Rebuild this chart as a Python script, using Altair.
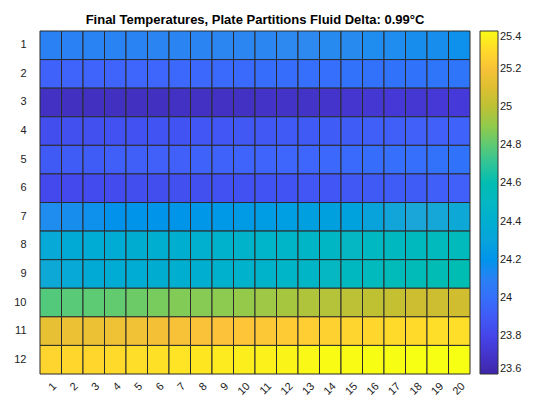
import altair as alt
import pandas as pd

rows = list(range(1, 13))
cols = list(range(1, 21))
r1 = [24.10,24.10,24.11,24.11,24.11,24.12,24.12,24.12,24.13,24.13,24.13,24.14,24.14,24.15,24.15,24.16,24.16,24.17,24.17,24.18]
r2 = [23.94,23.95,23.95,23.95,23.96,23.96,23.97,23.97,23.98,23.98,23.99,23.99,24.00,24.00,24.01,24.01,24.02,24.02,24.03,24.03]
r3 = [23.68,23.67,23.67,23.67,23.67,23.67,23.68,23.68,23.68,23.68,23.69,23.69,23.69,23.70,23.71,23.72,23.73,23.72,23.73,23.74]
r4 = [23.84,23.85,23.85,23.86,23.86,23.87,23.87,23.88,23.88,23.89,23.89,23.90,23.90,23.91,23.91,23.92,23.92,23.93,23.93,23.94]
r5 = [23.90,23.91,23.91,23.92,23.92,23.93,23.93,23.94,23.94,23.95,23.95,23.96,23.96,23.97,23.98,23.99,24.00,24.00,24.01,24.02]
r6 = [23.82,23.82,23.83,23.83,23.84,23.84,23.85,23.85,23.86,23.86,23.87,23.87,23.88,23.88,23.89,23.90,23.91,23.91,23.92,23.93]
r7 = [24.16,24.17,24.18,24.19,24.20,24.20,24.21,24.22,24.23,24.24,24.25,24.26,24.27,24.28,24.29,24.30,24.31,24.32,24.33,24.34]
r8 = [24.35,24.36,24.37,24.38,24.39,24.40,24.41,24.42,24.44,24.45,24.46,24.47,24.48,24.49,24.50,24.51,24.52,24.53,24.54,24.55]
r9 = [24.34,24.35,24.36,24.37,24.38,24.39,24.40,24.41,24.43,24.44,24.45,24.47,24.48,24.50,24.52,24.54,24.56,24.57,24.58,24.59]
r10 = [24.78,24.79,24.80,24.81,24.83,24.85,24.87,24.88,24.89,24.91,24.93,24.95,24.97,24.98,25.00,25.01,25.02,25.04,25.04,25.05]
r11 = [25.14,25.16,25.16,25.17,25.18,25.19,25.20,25.21,25.22,25.23,25.24,25.25,25.26,25.27,25.28,25.29,25.30,25.30,25.31,25.31]
r12 = [25.28,25.29,25.29,25.30,25.31,25.32,25.33,25.34,25.35,25.36,25.37,25.38,25.39,25.40,25.40,25.41,25.41,25.42,25.42,25.42]
grid = [r1,r2,r3,r4,r5,r6,r7,r8,r9,r10,r11,r12]
ticks = [23.6,23.8,24,24.2,24.4,24.6,24.8,25,25.2,25.4]

recs = [{"row": str(r), "col": str(c), "v": grid[i][j]} for i, r in enumerate(rows) for j, c in enumerate(cols)]
df = pd.DataFrame(recs)

parula = ['#3e26a8','#4640e8','#3f66fc','#2d88f0','#1aa6d8','#05b7c3','#27c1a0','#7ecc5a','#cdbd30','#fcc239','#f9fb15']

chart = alt.Chart(df).mark_rect(stroke='#2b2b2b', strokeWidth=1).encode(
    x=alt.X('col:O', sort=[str(c) for c in cols], title=None,
            axis=alt.Axis(labelAngle=-45, ticks=False, domain=False, labelFontSize=11, labelPadding=6)),
    y=alt.Y('row:O', sort=[str(r) for r in rows], title=None,
            axis=alt.Axis(ticks=False, domain=False, labelFontSize=11, labelPadding=14)),
    color=alt.Color('v:Q', title=None,
                    scale=alt.Scale(range=parula, domain=[23.6, 25.4]),
                    legend=alt.Legend(gradientLength=343, gradientThickness=18, format='~g',
                                      labelFontSize=11, values=ticks,
                                      gradientStrokeColor='#333', gradientStrokeWidth=1, offset=10))
).properties(
    width=430, height=343,
    title=alt.TitleParams('Final Temperatures, Plate Partitions Fluid Delta: 0.99°C', fontSize=13, fontWeight='bold', font='Arial'),
).configure_view(stroke=None).configure_axis(labelFont='Arial', labelColor='#222').configure_legend(labelFont='Arial', labelColor='#222')

chart.save("out.html", embed_options={"renderer": "svg", "actions": False})
